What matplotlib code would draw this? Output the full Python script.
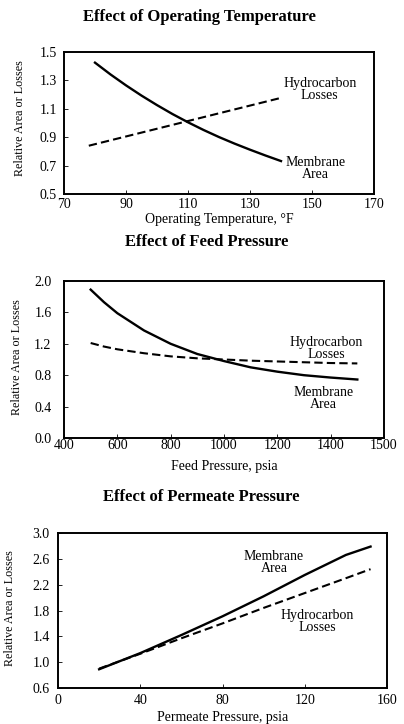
import matplotlib
matplotlib.use("Agg")
import matplotlib.pyplot as plt
from matplotlib.ticker import FormatStrFormatter

plt.rcParams['font.family'] = ['Liberation Serif', 'DejaVu Serif']

# Panel 1: Effect of Operating Temperature
temp_x_area = [80, 85, 90, 95, 100, 105, 110, 115, 120, 125, 130, 135, 140]
temp_area = [1.425, 1.342, 1.265, 1.193, 1.126, 1.063, 1.005, 0.951, 0.901, 0.855, 0.812, 0.771, 0.732]
temp_x_loss = [78, 140]
temp_loss = [0.84, 1.177]

# Panel 2: Effect of Feed Pressure
feed_x = [500, 550, 600, 700, 800, 900, 1000, 1100, 1200, 1300, 1400, 1500]
feed_area = [1.89, 1.73, 1.59, 1.37, 1.20, 1.07, 0.98, 0.90, 0.845, 0.80, 0.77, 0.745]
feed_loss = [1.21, 1.165, 1.13, 1.08, 1.04, 1.015, 1.0, 0.985, 0.975, 0.965, 0.955, 0.95]
feed_xticks = [400, 600, 800, 1000, 1200, 1400, 1600]
feed_xticklabels = ['400', '600', '800', '1000', '1200', '1400', '1500']

# Panel 3: Effect of Permeate Pressure
perm_x = [20, 40, 60, 80, 100, 120, 140, 152]
perm_area = [0.89, 1.14, 1.42, 1.71, 2.02, 2.35, 2.66, 2.79]
perm_loss = [0.90, 1.13, 1.37, 1.60, 1.84, 2.07, 2.30, 2.44]

fig = plt.figure(figsize=(4.04, 7.24), dpi=100)
W, H = 404, 724

TICK_FS = 10
LABEL_FS = 10
YLABEL_FS = 8.7
ANN_FS = 10
TITLE_FS = 12


def make_ax(left, top, right, bottom):
    ax = fig.add_axes([left / W, 1 - bottom / H, (right - left) / W, (bottom - top) / H])
    ax._px = (left, top, right, bottom)
    return ax


def style(ax, xpad, ypad):
    for s in ax.spines.values():
        s.set_linewidth(1.4)
    ax.tick_params(direction='in', length=3, width=0.6, labelsize=TICK_FS)
    ax.tick_params(axis='x', pad=xpad)
    ax.tick_params(axis='y', pad=ypad)


def place_labels(ax, xlabel, xlab_y, ylab_x, ylab_y):
    left, top, right, bottom = ax._px
    w, h = right - left, bottom - top
    ax.set_xlabel(xlabel, fontsize=LABEL_FS)
    ax.xaxis.label.set_va('center')
    ax.xaxis.set_label_coords(0.5, -(xlab_y - bottom) / h)
    ax.set_ylabel('Relative Area or Losses', fontsize=YLABEL_FS)
    ax.yaxis.label.set_va('center')
    ax.yaxis.set_label_coords(-(left - ylab_x) / w, (bottom - ylab_y) / h)


dash = (0, (4, 2))

# Panel 1
ax1 = make_ax(64, 52, 374, 194)
ax1.plot(temp_x_area, temp_area, color='black', lw=1.7)
ax1.plot(temp_x_loss, temp_loss, color='black', lw=1.5, ls=dash)
ax1.set_xlim(70, 170)
ax1.set_ylim(0.5, 1.5)
ax1.set_xticks([70, 90, 110, 130, 150, 170])
ax1.set_yticks([0.5, 0.7, 0.9, 1.1, 1.3, 1.5])
ax1.yaxis.set_major_formatter(FormatStrFormatter('%.1f'))
style(ax1, 3, 5)
place_labels(ax1, 'Operating Temperature, °F', 219, 20, 118)
ax1.text(152.5, 1.235, 'Hydrocarbon\nLosses', ha='center', va='center', fontsize=ANN_FS, linespacing=0.95)
ax1.text(151, 0.68, 'Membrane\nArea', ha='center', va='center', fontsize=ANN_FS, linespacing=0.95)
fig.text(199 / W, 1 - 17 / H, 'Effect of Operating Temperature', ha='center', va='center',
         fontsize=TITLE_FS, fontweight='bold')

# Panel 2
ax2 = make_ax(64, 281, 384, 438)
ax2.plot(feed_x, feed_area, color='black', lw=1.7)
ax2.plot(feed_x, feed_loss, color='black', lw=1.5, ls=dash)
ax2.set_xlim(400, 1600)
ax2.set_ylim(0.0, 2.0)
ax2.set_xticks(feed_xticks)
ax2.set_xticklabels(feed_xticklabels)
ax2.set_yticks([0.0, 0.4, 0.8, 1.2, 1.6, 2.0])
ax2.yaxis.set_major_formatter(FormatStrFormatter('%.1f'))
style(ax2, 1, 9)
place_labels(ax2, 'Feed Pressure, psia', 467, 17, 357)
ax2.text(1385, 1.14, 'Hydrocarbon\nLosses', ha='center', va='center', fontsize=ANN_FS, linespacing=0.95)
ax2.text(1372, 0.50, 'Membrane\nArea', ha='center', va='center', fontsize=ANN_FS, linespacing=0.95)
fig.text(207 / W, 1 - 242 / H, 'Effect of Feed Pressure', ha='center', va='center',
         fontsize=TITLE_FS, fontweight='bold')

# Panel 3
ax3 = make_ax(58, 533, 387, 688)
ax3.plot(perm_x, perm_area, color='black', lw=1.7)
ax3.plot(perm_x, perm_loss, color='black', lw=1.5, ls=dash)
ax3.set_xlim(0, 160)
ax3.set_ylim(0.6, 3.0)
ax3.set_xticks([0, 40, 80, 120, 160])
ax3.set_yticks([0.6, 1.0, 1.4, 1.8, 2.2, 2.6, 3.0])
ax3.yaxis.set_major_formatter(FormatStrFormatter('%.1f'))
style(ax3, 4, 6)
place_labels(ax3, 'Permeate Pressure, psia', 717, 10, 608)
ax3.text(105, 2.54, 'Membrane\nArea', ha='center', va='center', fontsize=ANN_FS, linespacing=0.95)
ax3.text(126, 1.63, 'Hydrocarbon\nLosses', ha='center', va='center', fontsize=ANN_FS, linespacing=0.95)
fig.text(201 / W, 1 - 497 / H, 'Effect of Permeate Pressure', ha='center', va='center',
         fontsize=TITLE_FS, fontweight='bold')

fig.savefig('out.png', dpi=100)
